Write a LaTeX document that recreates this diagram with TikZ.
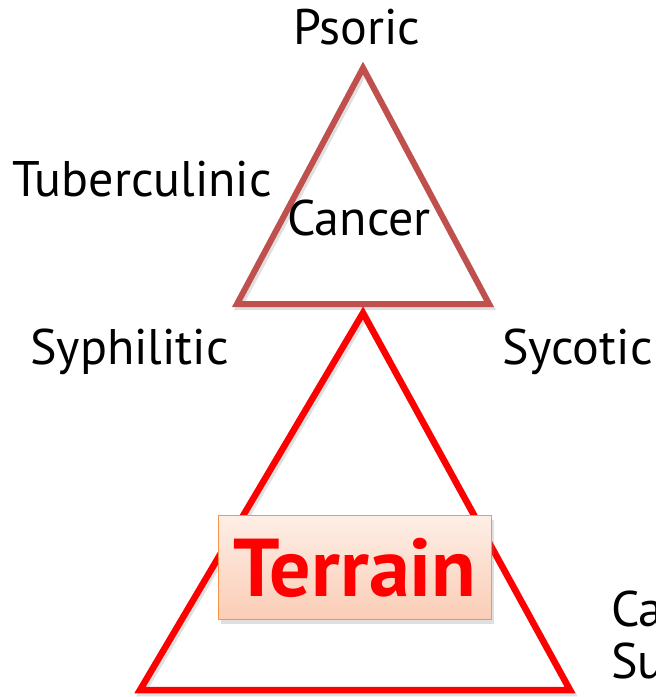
\documentclass[tikz,border=0pt]{standalone}
\usepackage{fontspec}
\setmainfont{PT Sans}
\usetikzlibrary{shadows}
\definecolor{cancerred}{HTML}{C0504D}
\definecolor{terrainred}{HTML}{FF0000}
\definecolor{boxedge}{HTML}{F79646}
\definecolor{boxtop}{HTML}{FDEEE6}
\definecolor{boxbot}{HTML}{FBCDB6}
\tikzset{
  lbl/.style={font=\fontsize{50}{56}\selectfont, text=black, inner sep=0pt},
  tri/.style={line width=6pt, line join=miter},
  trishadow/.style={line width=6pt, draw=black, opacity=0.12}
}
\begin{document}
\begin{tikzpicture}[x=1pt,y=-1pt]
\useasboundingbox (0,0) rectangle (656,697);
% corner points of the two triangles
\coordinate (ca) at (363,68);
\coordinate (cl) at (237,304);
\coordinate (cr) at (489,304);
\coordinate (ta) at (363,313);
\coordinate (tl) at (140,690);
\coordinate (tr) at (570,690);
% soft shadows
\draw[trishadow] ([shift={(2,3)}]ca) -- ([shift={(2,3)}]cl) -- ([shift={(2,3)}]cr) -- cycle;
\draw[trishadow, line width=6.5pt] ([shift={(2,3)}]ta) -- ([shift={(2,3)}]tl) -- ([shift={(2,3)}]tr) -- cycle;
% triangles
\draw[tri, draw=cancerred] (ca) -- (cl) -- (cr) -- cycle;
\draw[tri, line width=6.5pt, draw=terrainred] (ta) -- (tl) -- (tr) -- cycle;
% labels
\node[lbl, anchor=base] (psoric) at (357,44) {Psoric};
\node[lbl, anchor=base west] (tuber) at (12,196) {Tuberculinic};
\node[lbl, anchor=base] (cancer) at (359,235) {Cancer};
\node[lbl, anchor=base west] (syph) at (30,364) {Syphilitic};
\node[lbl, anchor=base west] (syc) at (502,364) {Sycotic};
\node[lbl, anchor=base west] (ca2) at (611,626) {Ca};
\node[lbl, anchor=base west] (su2) at (611,678) {Su};
% terrain box
\node[draw=boxedge, line width=1.5pt, top color=boxtop, bottom color=boxbot,
      minimum width=273pt, minimum height=104pt, inner sep=0pt,
      drop shadow={shadow xshift=2pt, shadow yshift=-4pt, opacity=0.25},
      text=terrainred, font=\bfseries\fontsize{82}{86}\selectfont]
  (terrain) at (355,567.5) {Terrain};
\end{tikzpicture}
\end{document}
